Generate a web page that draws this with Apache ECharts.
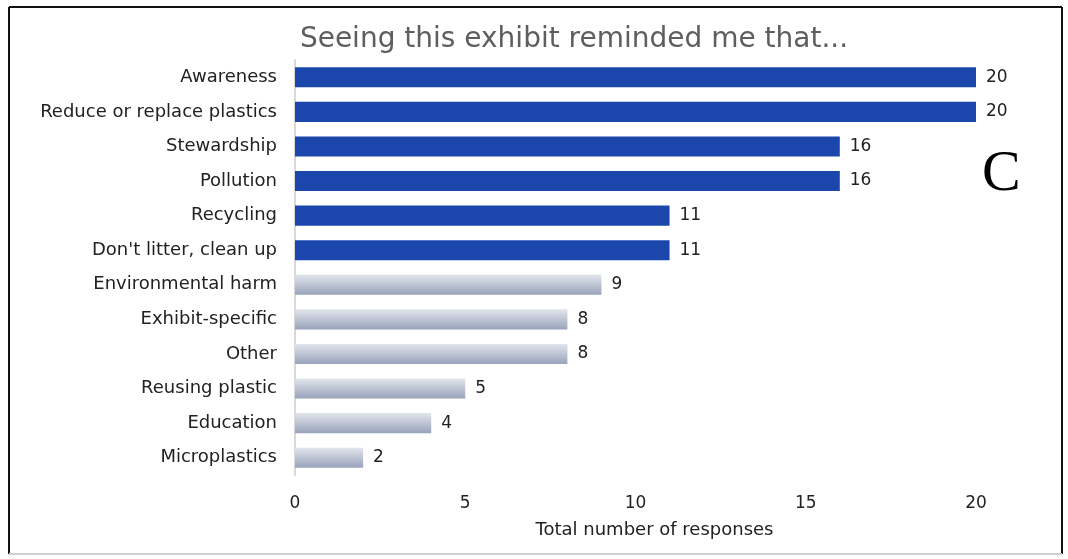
<!DOCTYPE html>
<html>
<head>
<meta charset="utf-8">
<script src="https://cdn.jsdelivr.net/npm/echarts@6/dist/echarts.min.js"></script>
<style>
  html, body { margin: 0; padding: 0; background: #fff; }
  #chart { width: 1068px; height: 559px; }
</style>
</head>
<body>
<div id="chart"></div>
<script>
// data, top to bottom as shown
var categories = ['Awareness', 'Reduce or replace plastics', 'Stewardship', 'Pollution', 'Recycling',
    "Don't litter, clean up", 'Environmental harm', 'Exhibit-specific', 'Other', 'Reusing plastic',
    'Education', 'Microplastics'];
var responses = [20, 20, 16, 16, 11, 11, 9, 8, 8, 5, 4, 2];
var highlighted = [true, true, true, true, true, true, false, false, false, false, false, false];
var xTicks = [0, 5, 10, 15, 20];

var font = 'DejaVu Sans';

var grayFill = new echarts.graphic.LinearGradient(0, 0, 0, 1, [
    { offset: 0, color: '#e2e5ec' },
    { offset: 1, color: '#98a3bb' }
]);

// category axis is inverse so the first item sits on top
var barData = responses.map(function (v, i) {
    return {
        value: v,
        itemStyle: { color: highlighted[i] ? '#1b47ac' : grayFill }
    };
});

var chart = echarts.init(document.getElementById('chart'));

var option = {
    animation: false,
    title: {
        text: 'Seeing this exhibit reminded me that...',
        left: 569,
        top: 21,
        textAlign: 'center',
        textStyle: { fontFamily: font, fontSize: 28, fontWeight: 'normal', color: '#5e5e5e' }
    },
    grid: {
        left: 295,
        right: 92,
        top: 60,
        bottom: 84
    },
    xAxis: {
        type: 'value',
        min: xTicks[0],
        max: xTicks[xTicks.length - 1],
        interval: 5,
        name: 'Total number of responses',
        nameLocation: 'middle',
        nameGap: 46,
        nameTextStyle: { fontFamily: font, fontSize: 18, color: '#222', padding: [0, 0, 0, 38] },
        axisLine: { show: false },
        axisTick: { show: false },
        splitLine: { show: false },
        axisLabel: { fontFamily: font, fontSize: 17, color: '#222', margin: 20 }
    },
    yAxis: {
        type: 'category',
        inverse: true,
        data: categories,
        axisLine: { show: true, lineStyle: { color: '#d9d9d9', width: 2 } },
        axisTick: { show: false },
        axisLabel: { fontFamily: font, fontSize: 18, color: '#222', margin: 18 }
    },
    series: [{
        type: 'bar',
        data: barData,
        barCategoryGap: '42%',
        label: {
            show: true,
            position: 'right',
            distance: 10,
            fontFamily: font,
            fontSize: 17,
            color: '#222'
        }
    }],
    graphic: [
        { type: 'line', shape: { x1: 9, y1: 7, x2: 1062, y2: 7 }, style: { stroke: '#111', lineWidth: 2 } },
        { type: 'line', shape: { x1: 9, y1: 7, x2: 9, y2: 554 }, style: { stroke: '#111', lineWidth: 2 } },
        { type: 'line', shape: { x1: 1062, y1: 7, x2: 1062, y2: 554 }, style: { stroke: '#111', lineWidth: 2 } },
        { type: 'line', shape: { x1: 9, y1: 554, x2: 1062, y2: 554 }, style: { stroke: '#cfcfcf', lineWidth: 2 } },
        {
            type: 'text', left: 982, top: 146,
            style: { text: 'C', font: '58px "Liberation Serif", serif', fill: '#000' }
        }
    ]
};

chart.setOption(option);
</script>
</body>
</html>
